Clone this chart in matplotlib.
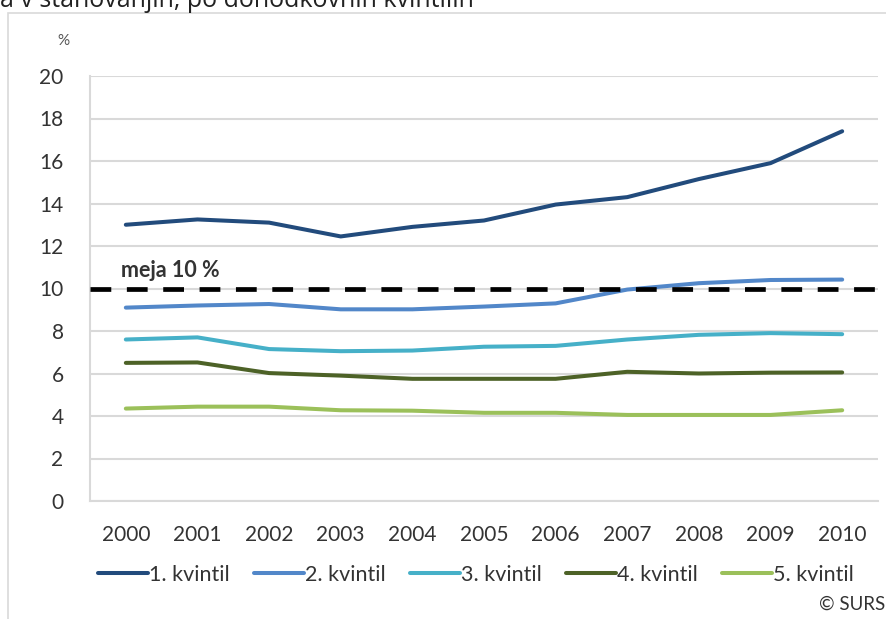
import matplotlib
matplotlib.use("Agg")
import matplotlib.pyplot as plt
from matplotlib.patches import Rectangle

YEARS = ["2000", "2001", "2002", "2003", "2004", "2005", "2006", "2007", "2008", "2009", "2010"]
Q1 = [13.0, 13.25, 13.1, 12.45, 12.9, 13.2, 13.95, 14.3, 15.15, 15.9, 17.4]
Q2 = [9.1, 9.2, 9.27, 9.02, 9.02, 9.15, 9.3, 9.95, 10.25, 10.4, 10.42]
Q3 = [7.6, 7.7, 7.15, 7.05, 7.08, 7.26, 7.3, 7.6, 7.82, 7.9, 7.85]
Q4 = [6.5, 6.52, 6.02, 5.9, 5.75, 5.75, 5.75, 6.08, 6.0, 6.04, 6.05]
Q5 = [4.35, 4.44, 4.44, 4.27, 4.25, 4.15, 4.15, 4.05, 4.05, 4.05, 4.27]
SERIES = ["1. kvintil", "2. kvintil", "3. kvintil", "4. kvintil", "5. kvintil"]
THRESHOLD = 10
YTICKS = [0, 2, 4, 6, 8, 10, 12, 14, 16, 18, 20]

COLORS = ["#224b7c", "#5287c9", "#46b0c8", "#4d6227", "#9bc05a"]
TEXT = "#333333"
GRID = "#d9d9d9"

plt.rcParams["font.family"] = ["Lato", "DejaVu Sans"]

W, H = 887, 619
fig = plt.figure(figsize=(W / 100, H / 100), dpi=100)

# cut-off title line at the top and the chart frame
fig.text(0.0, 1 - 7 / H, "a v stanovanjih, po dohodkovnih kvintilih", fontsize=18,
         family=["Open Sans", "DejaVu Sans"], color="#222222", ha="left", va="baseline")
fig.patches.append(Rectangle((8 / W, -0.1), 1.2, 1.1 - 13 / H, transform=fig.transFigure,
                             facecolor="none", edgecolor=GRID, linewidth=1.2, zorder=0))

ax = fig.add_axes([90 / W, 1 - 501 / H, (878 - 90) / W, (501 - 76) / H])
ax.set_facecolor("none")
x = list(range(len(YEARS)))
for vals, name, col in zip([Q1, Q2, Q3, Q4, Q5], SERIES, COLORS):
    ax.plot(x, vals, color=col, linewidth=2.9, label=name, solid_capstyle="round", zorder=3)

ax.plot([-0.5, 10.57], [THRESHOLD, THRESHOLD], color="black", linewidth=3.4,
        dashes=(4.4, 3.3), dash_capstyle="butt", clip_on=False, zorder=4)
ax.text(-0.07, THRESHOLD + 0.33, "meja 10 %", fontsize=15.5, fontweight="bold",
        color=TEXT, ha="left", va="bottom")

ax.set_xlim(-0.5, 10.5)
ax.set_ylim(0, 20)
ax.set_yticks(YTICKS)
ax.set_xticks(x)
ax.set_xticklabels(YEARS)
ax.tick_params(axis="both", length=0, labelsize=15, colors=TEXT)
ax.tick_params(axis="y", pad=19)
ax.tick_params(axis="x", pad=17)
ax.grid(axis="y", color=GRID, linewidth=1.5)
ax.set_axisbelow(True)
for side in ["top", "right"]:
    ax.spines[side].set_visible(False)
for side in ["left", "bottom"]:
    ax.spines[side].set_color(GRID)
    ax.spines[side].set_linewidth(1.5)

fig.text(63 / W, 1 - 41 / H, "%", fontsize=11, color="#555555", ha="center", va="center")

fig.legend(loc="center", bbox_to_anchor=(476 / W, 1 - 575 / H), ncol=5, frameon=False,
           fontsize=15.5, handlelength=2.3, handletextpad=0.05, columnspacing=1.15,
           labelcolor=TEXT)

fig.text(885 / W, 1 - 604 / H, "© SURS", fontsize=13.5, color=TEXT, ha="right", va="center")

fig.savefig("out.png", dpi=100)
